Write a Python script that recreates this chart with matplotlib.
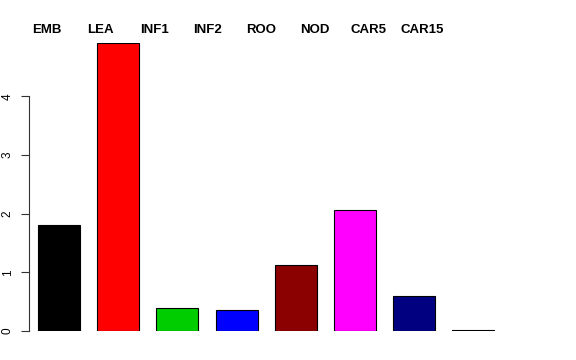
import matplotlib
matplotlib.use("Agg")
import matplotlib.pyplot as plt

categories = ['EMB', 'LEA', 'INF1', 'INF2', 'ROO', 'NOD', 'CAR5', 'CAR15']
values = [1.81, 4.91, 0.39, 0.36, 1.13, 2.06, 0.60, 0.01]
colors = ['black', 'red', '#00CD00', 'blue', '#8B0000', 'magenta', '#000080', '#BEBEBE']

plt.rcParams['font.family'] = ['Liberation Sans', 'DejaVu Sans']

W, H = 576, 360
fig = plt.figure(figsize=(W / 100, H / 100), dpi=100)

# axes placed in pixel terms to mimic R's barplot layout
px_unit = 59.2
x0, x1 = -0.507, 7.5
left_px = 29
bottom_px = 331
top_px = 43
ax = fig.add_axes([left_px / W, 1 - bottom_px / H,
                   (x1 - x0) * px_unit / W, (bottom_px - top_px) / H])

xs = range(len(values))
ax.bar(xs, values, width=0.71, color=colors, edgecolor='black', linewidth=0.8)
ax.set_xlim(x0, x1)
ax.set_ylim(0, max(values))

for s in ['top', 'right', 'bottom']:
    ax.spines[s].set_visible(False)
ax.spines['left'].set_bounds(0, 4)
ax.spines['left'].set_color('#333333')
ax.set_xticks([])
ax.set_yticks([0, 1, 2, 3, 4])
ax.tick_params(axis='y', length=6, width=0.8, pad=5, labelsize=8.5, color='#333333')
for lab in ax.get_yticklabels():
    lab.set_rotation(90)
    lab.set_verticalalignment('center')

# category names across the top, evenly spaced like the original
for i, name in enumerate(categories):
    fig.text((47 + 53.6 * i) / W, 1 - 30 / H, name, ha='center', va='center',
             fontsize=9.5, fontweight='bold')

fig.savefig('out.png', dpi=100)
